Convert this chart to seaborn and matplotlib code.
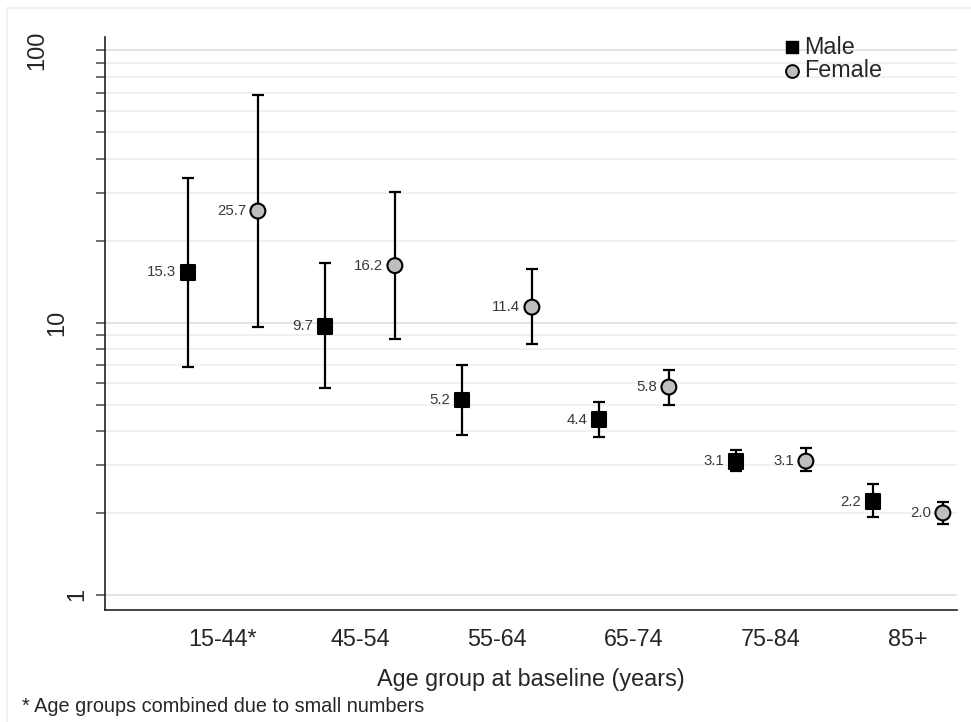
import numpy as np
import pandas as pd
import seaborn as sns
import matplotlib.pyplot as plt
from matplotlib.patches import Rectangle
from matplotlib.ticker import FixedLocator, NullFormatter

# donnees
age_groups = ['15-44*', '45-54', '55-64', '65-74', '75-84', '85+']
male_rate = [15.3, 9.7, 5.2, 4.4, 3.1, 2.2]
male_low = [6.9, 5.75, 3.87, 3.79, 2.84, 1.93]
male_high = [34.0, 16.5, 7.0, 5.1, 3.4, 2.56]
female_rate = [25.7, 16.2, 11.4, 5.8, 3.1, 2.0]
female_low = [9.6, 8.7, 8.35, 4.97, 2.86, 1.82]
female_high = [68.5, 30.2, 15.8, 6.7, 3.46, 2.19]

sns.set_theme(style='white')
plt.rcParams['font.family'] = ['Liberation Sans', 'DejaVu Sans']

dodge = 0.255
idx = np.arange(len(age_groups))
df = pd.concat([
    pd.DataFrame({'pos': idx - dodge, 'rate': male_rate, 'low': male_low,
                  'high': male_high, 'Sex': 'Male'}),
    pd.DataFrame({'pos': idx + dodge, 'rate': female_rate, 'low': female_low,
                  'high': female_high, 'Sex': 'Female'}),
], ignore_index=True)

fig = plt.figure(figsize=(9.71, 7.22), dpi=100)
ax = fig.add_axes([105 / 971, 1 - 610 / 722, 852 / 971, 573 / 722])

# barres d'erreur
for sex in ['Male', 'Female']:
    d = df[df['Sex'] == sex]
    ax.errorbar(d['pos'], d['rate'],
                yerr=[d['rate'] - d['low'], d['high'] - d['rate']],
                fmt='none', ecolor='black', elinewidth=1.6, capsize=4.2,
                capthick=1.6, zorder=3)

sns.scatterplot(data=df, x='pos', y='rate', hue='Sex', style='Sex',
                markers={'Male': 's', 'Female': 'o'},
                palette={'Male': 'black', 'Female': '#BEBEBE'},
                s=115, edgecolor='black', linewidth=1.5, zorder=4, ax=ax,
                legend=False)

for _, r in df.iterrows():
    ax.annotate(f"{r['rate']:.1f}", (r['pos'], r['rate']), xytext=(-8.5, 0),
                textcoords='offset points', ha='right', va='center',
                fontsize=10.8, color='#3a3a3a')

ax.set_yscale('log')
ax.set_ylim(0.88, 112)
ax.set_xlim(-0.861, 5.358)

minor = [v * m for m in [1, 10] for v in range(2, 10)]
ax.yaxis.set_major_locator(FixedLocator([1, 10, 100]))
ax.yaxis.set_minor_locator(FixedLocator(minor))
ax.yaxis.set_major_formatter(NullFormatter())
ax.yaxis.set_minor_formatter(NullFormatter())
ax.tick_params(axis='y', which='both', left=True, length=6.5, width=1.2,
               color='#555555')
ax.yaxis.grid(True, which='major', color='#E3E3E3', linewidth=1.4)
ax.yaxis.grid(True, which='minor', color='#EDF2F4', linewidth=1.4)
ax.set_axisbelow(True)

# etiquettes de l'axe y, decalees comme dans l'original
for val, xa in [(100, -0.0798), (10, -0.0563), (1, -0.0329)]:
    ax.text(xa, val, str(val), transform=ax.get_yaxis_transform(),
            rotation=90, ha='center', va='center', fontsize=17)

ax.set_xticks(idx)
ax.set_xticklabels(age_groups, fontsize=16.8)
ax.tick_params(axis='x', bottom=False, pad=7)
ax.set_xlabel('Age group at baseline (years)', fontsize=16.8, labelpad=12)
ax.set_ylabel('')

for s in ['top', 'right']:
    ax.spines[s].set_visible(False)
for s in ['left', 'bottom']:
    ax.spines[s].set_color('#222222')
    ax.spines[s].set_linewidth(1.2)

# legende
hm = ax.scatter([], [], marker='s', s=85, color='black', edgecolor='black')
hf = ax.scatter([], [], marker='o', s=85, color='#BEBEBE', edgecolor='black',
                linewidth=1.4)
leg = ax.legend([hm, hf], ['Male', 'Female'], loc='upper left',
                bbox_to_anchor=(0.773, 1.031), frameon=False, fontsize=16.8,
                handletextpad=0.05, labelspacing=0.02, handlelength=1.0,
                borderpad=0.2)

fig.text(22 / 971, 1 - 707 / 722, '* Age groups combined due to small numbers',
         fontsize=14.3, va='center', ha='left')

fig.patches.append(Rectangle((7 / 971, -0.02), 1.05, 1 - 8 / 722 + 0.02,
                             transform=fig.transFigure, fill=False,
                             edgecolor='#EAF2F3', linewidth=1.5))

plt.savefig('out.png', dpi=100)
